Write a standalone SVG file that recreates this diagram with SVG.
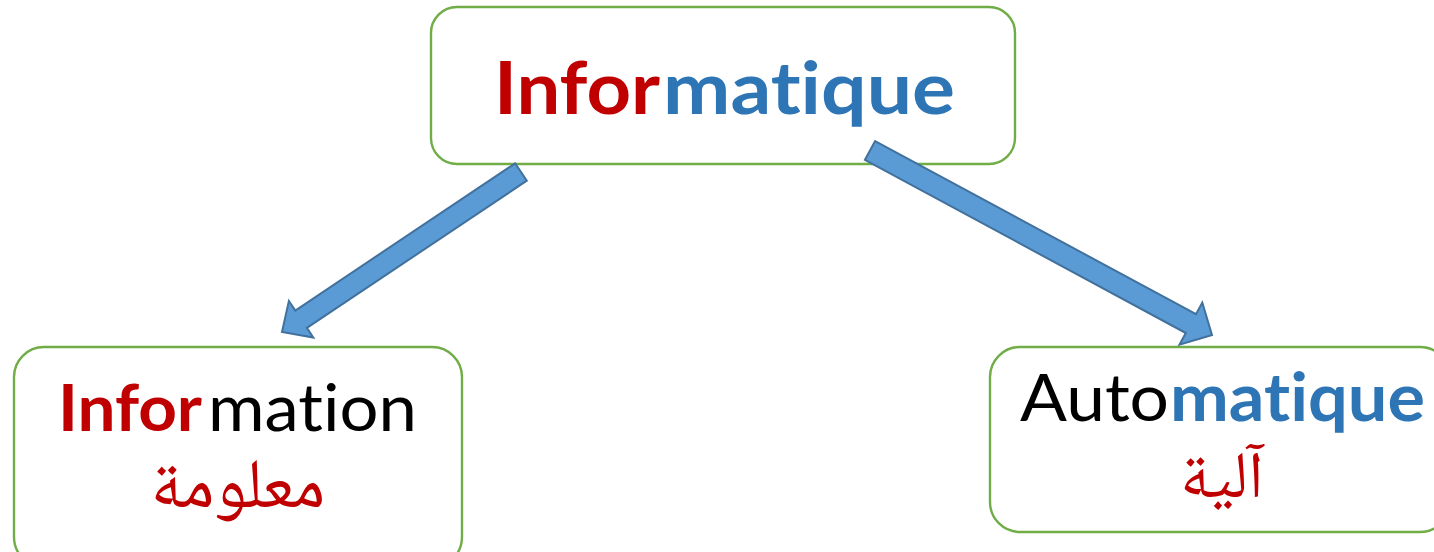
<svg xmlns="http://www.w3.org/2000/svg" width="1434" height="552" viewBox="0 0 1434 552">
  <style>
    .box { fill: #ffffff; stroke: #70ad47; stroke-width: 2.4; }
    .arrow { fill: #5b9bd5; stroke: #41719c; stroke-width: 2; stroke-linejoin: miter; }
    .lat { font-family: Lato, "Open Sans", "Liberation Sans", sans-serif; font-variant-ligatures: none; font-feature-settings: "liga" 0, "clig" 0; }
    .b { font-weight: bold; }
    .red { fill: #c00000; }
    .blue { fill: #2e75b6; }
    .black { fill: #000000; }
    .ar { font-family: "Noto Naskh Arabic", "Noto Sans Arabic", "DejaVu Sans", serif; fill: #c00000; }
  </style>
  <rect width="1434" height="552" fill="#ffffff"/>

  <g id="node-informatique">
    <rect class="box" x="431" y="7" width="584" height="157" rx="26" ry="26"/>
    <text class="lat b red" x="494" y="114" font-size="72" textLength="166" lengthAdjust="spacingAndGlyphs">Infor</text>
    <text class="lat b blue" x="663" y="114" font-size="72" textLength="292" lengthAdjust="spacingAndGlyphs">matique</text>
  </g>

  <g id="node-information">
    <rect class="box" x="14" y="347" width="448" height="220" rx="30" ry="30"/>
    <text class="lat b red" x="58" y="431" font-size="65" textLength="144" lengthAdjust="spacingAndGlyphs">Infor</text>
    <text class="lat black" x="208" y="431" font-size="65" textLength="209" lengthAdjust="spacingAndGlyphs">mation</text>
    <text class="ar" x="238" y="507" font-size="70" text-anchor="middle" direction="rtl">معلومة</text>
  </g>

  <g id="node-automatique">
    <rect class="box" x="990" y="347" width="460" height="185" rx="30" ry="30"/>
    <text class="lat black" x="1020" y="421" font-size="66" textLength="149" lengthAdjust="spacingAndGlyphs">Auto</text>
    <text class="lat b blue" x="1170" y="421" font-size="66" textLength="255" lengthAdjust="spacingAndGlyphs">matique</text>
    <text class="ar" x="1222" y="497" font-size="66" text-anchor="middle" direction="rtl">آلية</text>
  </g>

  <g id="connectors">
    <polygon class="arrow" points="515.2,163.3 295.3,310.5 288.9,300.9 282,332 313.3,337.5 306.9,327.9 526.8,180.7"/>
    <polygon class="arrow" points="875.1,141.1 1196,314.2 1202.3,302.5 1212,335 1179.5,344.7 1185.8,333 864.9,159.9"/>
  </g>
</svg>
